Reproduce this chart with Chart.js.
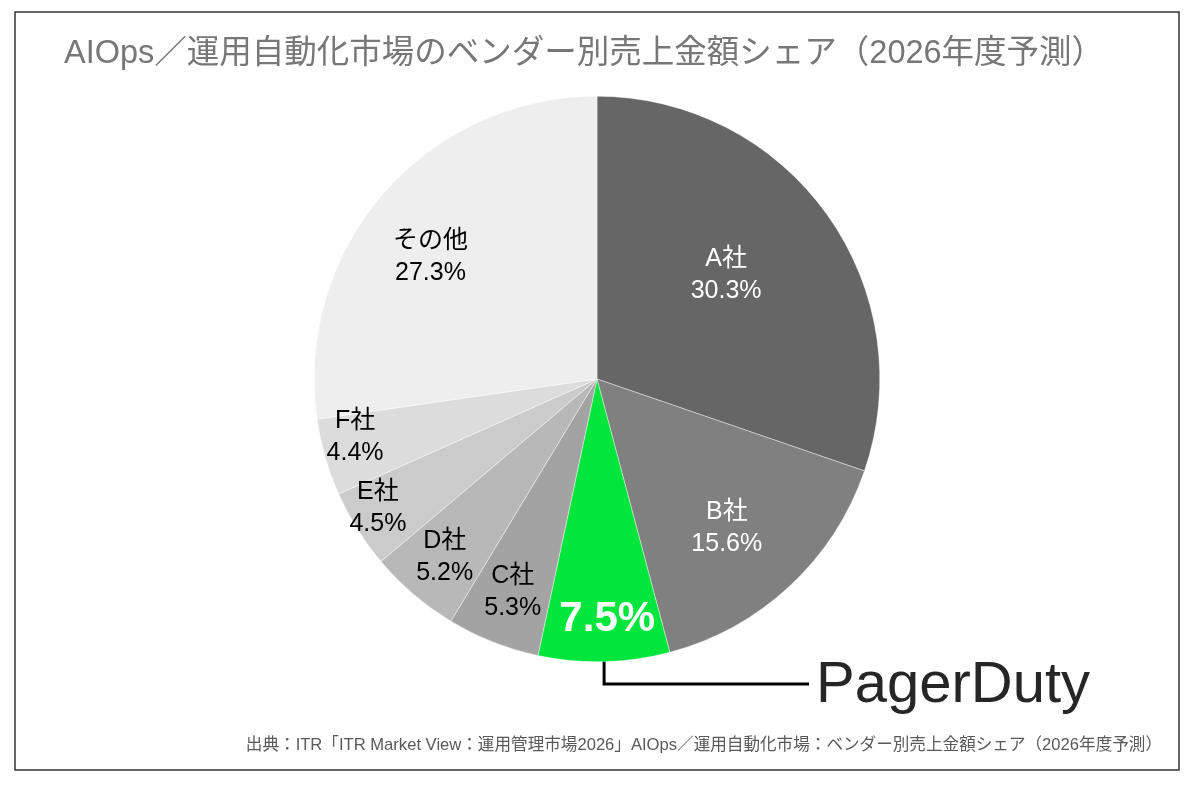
<!DOCTYPE html>
<html lang="ja">
<head>
<meta charset="utf-8">
<title>AIOps／運用自動化市場のベンダー別売上金額シェア</title>
<script src="https://cdn.jsdelivr.net/npm/chart.js@4.4.1/dist/chart.umd.min.js"></script>
<style>
  html, body { margin: 0; padding: 0; background: #ffffff; }
  #wrap { position: relative; width: 1200px; height: 787px; }
</style>
</head>
<body>
<div id="wrap"><canvas id="pieChart" width="1200" height="787"></canvas></div>
<script>
// data
const vendors = ['A社', 'B社', 'PagerDuty', 'C社', 'D社', 'E社', 'F社', 'その他'];
const shares = [30.3, 15.6, 7.5, 5.3, 5.2, 4.5, 4.4, 27.3];
const sliceColors = ['#666666', '#808080', '#00e63c', '#a3a3a3', '#b8b8b8', '#cbcbcb', '#dcdcdc', '#eeeeee'];

const titleText = 'AIOps／運用自動化市場のベンダー別売上金額シェア（2026年度予測）';
const sourceText = '出典：ITR「ITR Market View：運用管理市場2026」AIOps／運用自動化市場：ベンダー別売上金額シェア（2026年度予測）';

// label placement: fraction of radius, angle shift (deg), colour
const labelRadius = [0.585, 0.70, 0.85, 0.81, 0.83, 0.90, 0.88, 0.73];
const labelShift = [-3.2, 2, -1, 0, 0, 1.5, 2.5, -4.7];
const labelColors = ['#ffffff', '#ffffff', '#ffffff', '#000000', '#000000', '#000000', '#000000', '#000000'];

const FONT = '"Liberation Sans", Arial, "Noto Sans CJK JP", sans-serif';

const decorPlugin = {
  id: 'decor',
  afterDraw(chart) {
    const ctx = chart.ctx;
    const meta = chart.getDatasetMeta(0);
    ctx.save();

    // frame
    ctx.strokeStyle = '#333333';
    ctx.lineWidth = 1.5;
    ctx.strokeRect(15, 12, 1164, 758);

    // title
    ctx.fillStyle = '#777777';
    ctx.font = '32.5px ' + FONT;
    ctx.textAlign = 'left';
    ctx.textBaseline = 'alphabetic';
    ctx.fillText(titleText, 64, 63);

    // source
    ctx.fillStyle = '#595959';
    ctx.font = '16.6px ' + FONT;
    ctx.textAlign = 'right';
    ctx.fillText(sourceText, 1162, 750);

    // slice labels
    ctx.textAlign = 'center';
    ctx.textBaseline = 'middle';
    meta.data.forEach((arc, i) => {
      const p = arc.getProps(['x', 'y', 'startAngle', 'endAngle', 'outerRadius'], true);
      const a = (p.startAngle + p.endAngle) / 2 + labelShift[i] * Math.PI / 180;
      const r = p.outerRadius * labelRadius[i];
      const x = p.x + Math.cos(a) * r;
      const y = p.y + Math.sin(a) * r;
      ctx.fillStyle = labelColors[i];
      const pct = shares[i].toFixed(1) + '%';
      if (vendors[i] === 'PagerDuty') {
        ctx.font = 'bold 42px ' + FONT;
        ctx.fillText(pct, x, y);

        // leader line to the logo text
        const mid = (p.startAngle + p.endAngle) / 2;
        const lx = p.x + Math.cos(mid) * p.outerRadius;
        const ly = p.y + Math.sin(mid) * p.outerRadius;
        ctx.strokeStyle = '#000000';
        ctx.lineWidth = 3;
        ctx.beginPath();
        ctx.moveTo(lx, ly);
        ctx.lineTo(lx, 684);
        ctx.lineTo(809, 684);
        ctx.stroke();

        ctx.fillStyle = '#262626';
        ctx.font = '58px ' + FONT;
        ctx.textAlign = 'left';
        ctx.textBaseline = 'alphabetic';
        ctx.fillText('PagerDuty', 816, 702, 276);
        ctx.textAlign = 'center';
        ctx.textBaseline = 'middle';
      } else {
        ctx.font = '25px ' + FONT;
        ctx.fillText(vendors[i], x, y - 16);
        ctx.fillText(pct, x, y + 16);
      }
    });
    ctx.restore();
  }
};

new Chart(document.getElementById('pieChart').getContext('2d'), {
  type: 'pie',
  data: {
    labels: vendors,
    datasets: [{
      data: shares,
      backgroundColor: sliceColors,
      borderColor: '#ffffff',
      borderWidth: 0.4
    }]
  },
  options: {
    responsive: false,
    animation: false,
    layout: { padding: { top: 96, bottom: 125, left: 314, right: 320 } },
    plugins: {
      legend: { display: false },
      tooltip: { enabled: false }
    }
  },
  plugins: [decorPlugin]
});
</script>
</body>
</html>
